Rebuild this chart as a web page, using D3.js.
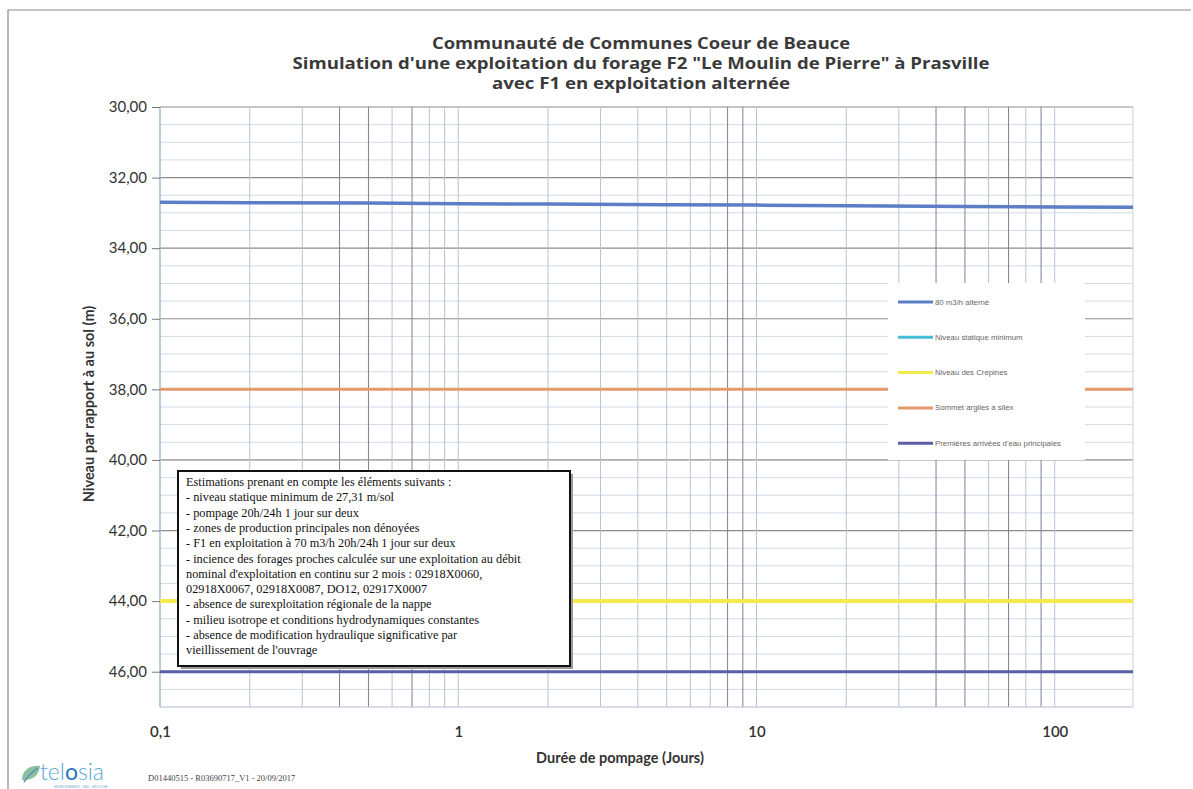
<!DOCTYPE html>
<html lang="fr">
<head>
    <meta charset="UTF-8">
    <title>Simulation forage F2 - Prasville</title>
    <script src="https://d3js.org/d3.v7.min.js"></script>
    <style>
        body { margin: 0; background: #fff; }
        svg { display: block; }
        .title { font-family: "Open Sans", Lato, sans-serif; font-weight: bold; fill: #3a3a3a; }
        .tick-label { font-family: Lato, sans-serif; fill: #333; }
        .axis-title { font-family: Lato, sans-serif; font-weight: bold; fill: #333; font-size: 14.5px; }
        .note { font-family: "Liberation Serif", "DejaVu Serif", serif; font-size: 12.3px; fill: #111; }
        .legend-text { font-family: "Liberation Sans", sans-serif; font-size: 7.8px; fill: #666; }
    </style>
</head>
<body>
    <svg id="chart" width="1193" height="789"></svg>
    <script>
        // Durée de pompage (jours) and simulated level for 80 m3/h
        const times = [0.1, 0.2, 0.5, 1, 2, 5, 10, 20, 50, 100, 183];
        const pumping = [32.70, 32.71, 32.72, 32.74, 32.75, 32.77, 32.78, 32.80, 32.82, 32.83, 32.84];

        // reference levels (m/sol): niveau statique, crépines, sommet argiles, arrivées d'eau
        const refLevels = [27.31, 44.0, 38.0, 46.0];

        const seriesNames = ["80 m3/h alterné", "Niveau statique minimum", "Niveau des Crépines",
            "Sommet argiles à silex", "Premières arrivées d'eau principales"];
        const seriesColors = ["#5b7ec6", "#46bcd6", "#f4ea4e", "#e39a6c", "#5a5ea8"];
        const seriesWidths = [3.5, 3, 4, 3, 3];

        const xTicks = [0.1, 1, 10, 100];
        const xTickLabels = ["0,1", "1", "10", "100"];
        const yTicks = [30, 32, 34, 36, 38, 40, 42, 44, 46];

        const titleLines = [
            "Communauté de Communes Coeur de Beauce",
            "Simulation d'une exploitation du forage F2 \"Le Moulin de Pierre\" à Prasville",
            "avec F1 en exploitation alternée"
        ];
        const titleWidths = [418, 697, 298];

        const notes = [
            "Estimations prenant en compte les éléments suivants :",
            "- niveau statique minimum de  27,31 m/sol",
            "- pompage 20h/24h 1 jour sur deux",
            "- zones de production principales non dénoyées",
            "- F1 en exploitation à 70 m3/h 20h/24h 1 jour sur deux",
            "- incience des forages proches calculée sur une exploitation au débit",
            "nominal d'exploitation en continu sur 2 mois : 02918X0060,",
            "02918X0067, 02918X0087, DO12, 02917X0007",
            "- absence de surexploitation régionale de la nappe",
            "- milieu isotrope et conditions hydrodynamiques constantes",
            "- absence de modification hydraulique significative par",
            "vieillissement de l'ouvrage"
        ];

        const svg = d3.select("#chart");
        const plot = { left: 160, right: 1133, top: 107, bottom: 707 };

        const x = d3.scaleLog().domain([0.1, 183]).range([plot.left, plot.right]);
        const y = d3.scaleLinear().domain([30, 47]).range([plot.top, plot.bottom]);
        const fmt = v => d3.format(".2f")(v).replace(".", ",");

        // outer frame
        svg.append("path")
            .attr("d", "M8,789 L8,10 L1191,10")
            .attr("fill", "none").attr("stroke", "#8a8a8a").attr("stroke-width", 1.2);

        // title
        titleLines.forEach((t, i) => {
            svg.append("text").attr("class", "title")
                .attr("x", 641).attr("y", 49 + i * 20)
                .attr("text-anchor", "middle").attr("font-size", 15.5)
                .attr("textLength", titleWidths[i]).attr("lengthAdjust", "spacingAndGlyphs")
                .text(t);
        });

        // grid
        const grid = svg.append("g");
        d3.range(30, 47.01, 0.5).forEach(v => {
            const major = v % 2 === 0;
            grid.append("line")
                .attr("x1", plot.left).attr("x2", plot.right)
                .attr("y1", y(v)).attr("y2", y(v))
                .attr("stroke", major ? "#8c8c8c" : "#d3dae6")
                .attr("stroke-width", major ? 1.2 : 1);
        });
        const darkMinor = [0.4, 0.5, 0.7, 8, 9, 40, 50, 70, 90];
        x.ticks().filter(t => t > 0.1).forEach(t => {
            const dark = darkMinor.some(d => Math.abs(d - t) < 1e-9);
            grid.append("line")
                .attr("x1", x(t)).attr("x2", x(t))
                .attr("y1", plot.top).attr("y2", plot.bottom)
                .attr("stroke", dark ? "#7d8294" : "#b9c2d6").attr("stroke-width", 1);
        });
        grid.append("line").attr("x1", plot.right).attr("x2", plot.right)
            .attr("y1", plot.top).attr("y2", plot.bottom).attr("stroke", "#c8cfdd");
        grid.append("line").attr("x1", plot.left).attr("x2", plot.right)
            .attr("y1", plot.bottom).attr("y2", plot.bottom).attr("stroke", "#c8cfdd");
        grid.append("line").attr("x1", plot.left).attr("x2", plot.left)
            .attr("y1", plot.top).attr("y2", plot.bottom).attr("stroke", "#9fb3d6").attr("stroke-width", 1.4);

        // y axis
        const yAxis = svg.append("g")
            .attr("transform", `translate(${plot.left},0)`)
            .call(d3.axisLeft(y).tickValues(yTicks).tickFormat(fmt).tickSize(8).tickPadding(5));
        yAxis.select(".domain").remove();
        yAxis.selectAll(".tick line").attr("stroke", "#777");
        yAxis.selectAll("text").attr("class", "tick-label").attr("font-size", 15);

        // x axis labels
        const xAxis = svg.append("g")
            .attr("transform", `translate(0,${plot.bottom})`)
            .call(d3.axisBottom(x).tickValues(xTicks).tickFormat((d, i) => xTickLabels[i]).tickSize(0).tickPadding(19));
        xAxis.select(".domain").remove();
        xAxis.selectAll("text").attr("class", "tick-label").attr("font-size", 15).attr("font-weight", 600);

        // axis titles
        svg.append("text").attr("class", "axis-title")
            .attr("transform", "translate(94,404) rotate(-90)")
            .attr("text-anchor", "middle").text("Niveau par rapport à au sol  (m)");
        svg.append("text").attr("class", "axis-title")
            .attr("x", 620).attr("y", 763).attr("text-anchor", "middle")
            .text("Durée de pompage (Jours)");

        // series
        svg.append("clipPath").attr("id", "clip").append("rect")
            .attr("x", plot.left).attr("y", plot.top)
            .attr("width", plot.right - plot.left).attr("height", plot.bottom - plot.top);
        const lines = svg.append("g").attr("clip-path", "url(#clip)");
        const line = d3.line().x(d => x(d[0])).y(d => y(d[1]));

        const seriesData = [times.map((t, i) => [t, pumping[i]])]
            .concat(refLevels.map(v => [[0.1, v], [183, v]]));
        // draw order: reference levels first, pumping curve on top
        [1, 2, 3, 4, 0].forEach(i => {
            lines.append("path").attr("d", line(seriesData[i]))
                .attr("fill", "none").attr("stroke", seriesColors[i])
                .attr("stroke-width", seriesWidths[i]);
        });

        // legend
        const legend = svg.append("g").attr("transform", "translate(888,283)");
        legend.append("rect").attr("width", 197).attr("height", 177).attr("fill", "#fff");
        seriesNames.forEach((n, i) => {
            const ly = 19 + i * 35.3;
            legend.append("line").attr("x1", 10).attr("x2", 45)
                .attr("y1", ly).attr("y2", ly)
                .attr("stroke", seriesColors[i]).attr("stroke-width", 3);
            legend.append("text").attr("class", "legend-text")
                .attr("x", 47).attr("y", ly + 2.5).text(n);
        });

        // note box
        const note = svg.append("g").attr("transform", "translate(178,471)");
        note.append("rect").attr("x", 3).attr("y", 3).attr("width", 392).attr("height", 195)
            .attr("fill", "#9a9a9a");
        note.append("rect").attr("width", 392).attr("height", 195)
            .attr("fill", "#fff").attr("stroke", "#111").attr("stroke-width", 2);
        notes.forEach((t, i) => {
            note.append("text").attr("class", "note")
                .attr("x", 8).attr("y", 15 + i * 15.3).text(t);
        });

        // footer: logo + reference
        const logo = svg.append("g").attr("transform", "translate(20,764)");
        logo.append("path")
            .attr("d", "M2,16 C2,6 10,1 20,2 C19,11 13,17 2,16 Z")
            .attr("fill", "#8cc0a0");
        logo.append("path")
            .attr("d", "M4,18 C8,12 12,8 18,4")
            .attr("fill", "none").attr("stroke", "#5a8fb8").attr("stroke-width", 1.5);
        const logoText = logo.append("text").attr("x", 20).attr("y", 16)
            .attr("font-family", "Lato, sans-serif").attr("font-weight", 300)
            .attr("font-size", 23).attr("fill", "#59a6d8");
        logoText.append("tspan").text("tel");
        logoText.append("tspan").attr("fill", "#2677bd").attr("font-weight", 400).text("o");
        logoText.append("tspan").text("sia");
        logo.append("text").attr("x", 34).attr("y", 23.5)
            .attr("font-family", "Liberation Sans, sans-serif").attr("font-size", 3)
            .attr("fill", "#7aa8c8").text("ENVIRONNEMENT · EAU · GÉOLOGIE");
        svg.append("text").attr("x", 148).attr("y", 781)
            .attr("font-family", "Liberation Serif, serif").attr("font-size", 8.5)
            .attr("fill", "#444").text("D01440515 - R03690717_V1 - 20/09/2017");
    </script>
</body>
</html>
